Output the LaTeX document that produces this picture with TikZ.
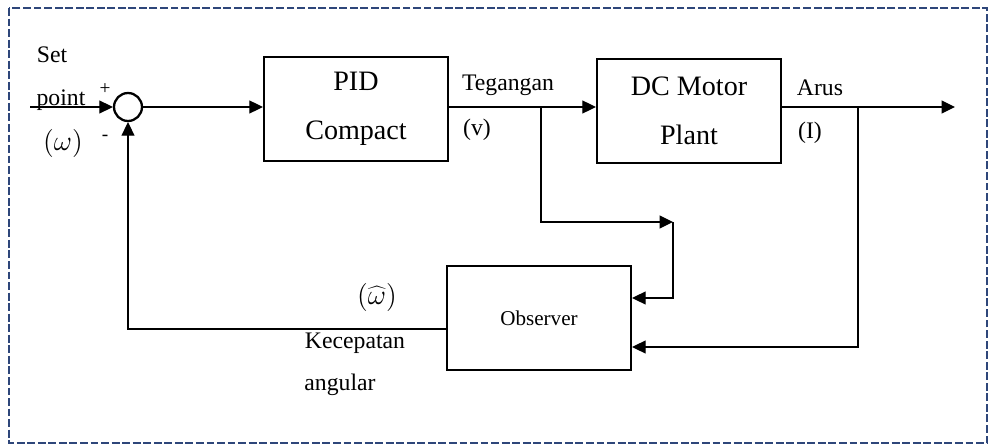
\RequirePackage{fix-cm}
\documentclass[tikz,border=0pt]{standalone}
\usepackage{fontspec}
\setmainfont{Liberation Serif}
\usepackage{xcolor}
\usetikzlibrary{arrows.meta,positioning,calc}
\definecolor{framecol}{RGB}{46,70,122}
\tikzset{
  block/.style   = {draw, line width=1.3pt, rectangle, minimum width=3.68cm,
                    minimum height=2.08cm, align=center,
                    font=\fontsize{16}{28}\selectfont},
  sumnode/.style = {draw, line width=1.3pt, circle, inner sep=0pt, minimum size=0.56cm},
  sig/.style     = {-{Triangle[length=2.7mm,width=2.6mm]}, line width=0.7pt},
  lbl/.style     = {font=\fontsize{13.5}{16}\selectfont, inner sep=0pt},
  mlbl/.style    = {font=\fontsize{16}{18}\selectfont, inner sep=0pt},
  frame/.style   = {draw=framecol, line width=1.1pt, dash pattern=on 4.5pt off 1.5pt},
}

\begin{document}
\begin{tikzpicture}[x=0.02cm, y=-0.02cm]
\useasboundingbox (0,0) rectangle (991,446);
\path[frame] (9,8) rectangle (987,443);
% ---- forward path ----
\coordinate (in) at (30,107);
\node[sumnode] (sum) at (128,107) {};
\node[block] (pid) at (356,109) {PID\\Compact};
\node[block] (motor) at (689,111) {DC Motor\\Plant};
\coordinate (out) at (955,107);
\coordinate (tv) at (541,107);
\coordinate (ti) at (858,107);

\draw[sig] (in) -- (sum);
\draw[sig] (sum.east) -- (sum.east -| pid.west);
\draw[sig] (pid.east |- sum) -- (motor.west |- sum);
\draw[sig] (motor.east |- sum) -- (out);
\node[lbl] (sp1) at (52,55) {Set};
\node[lbl] (sp2) at (61,100) {point};
\node[mlbl] (spw) at (63,143) {$(\omega)$};
\node[lbl, font=\fontsize{11}{12}\selectfont] (plus) at (105,89) {+};
\node[lbl, font=\fontsize{11}{12}\selectfont] (minus) at (105,138) {-};
\node[lbl] (vlbl) at (508,85) {Tegangan};
\node[lbl] (vsym) at (477,130) {(v)};
\node[lbl] (ilbl) at (820,88) {Arus};
\node[lbl] (isym) at (810,133) {(I)};

% ---- observer ----
\node[block, font=\fontsize{12}{14}\selectfont] (obs) at (539,318) {Observer};
\coordinate (turn) at (673,222);
\coordinate (o1) at ($(obs.east)+(0,-20)$);
\coordinate (o2) at ($(obs.east)+(0,29)$);
\coordinate (fb) at ($(obs.west)+(0,11)$);

\draw[sig] (tv) |- (turn);
\draw[sig] (turn) |- (o1);
\draw[sig] (ti) |- (o2);
\draw[sig] (fb) -| (sum.south);
\node[mlbl] (wh) at (377,297) {$(\widehat{\omega})$};
\node[lbl] (kc1) at (355,343) {Kecepatan};
\node[lbl] (kc2) at (340,385) {angular};
\end{tikzpicture}
\end{document}
